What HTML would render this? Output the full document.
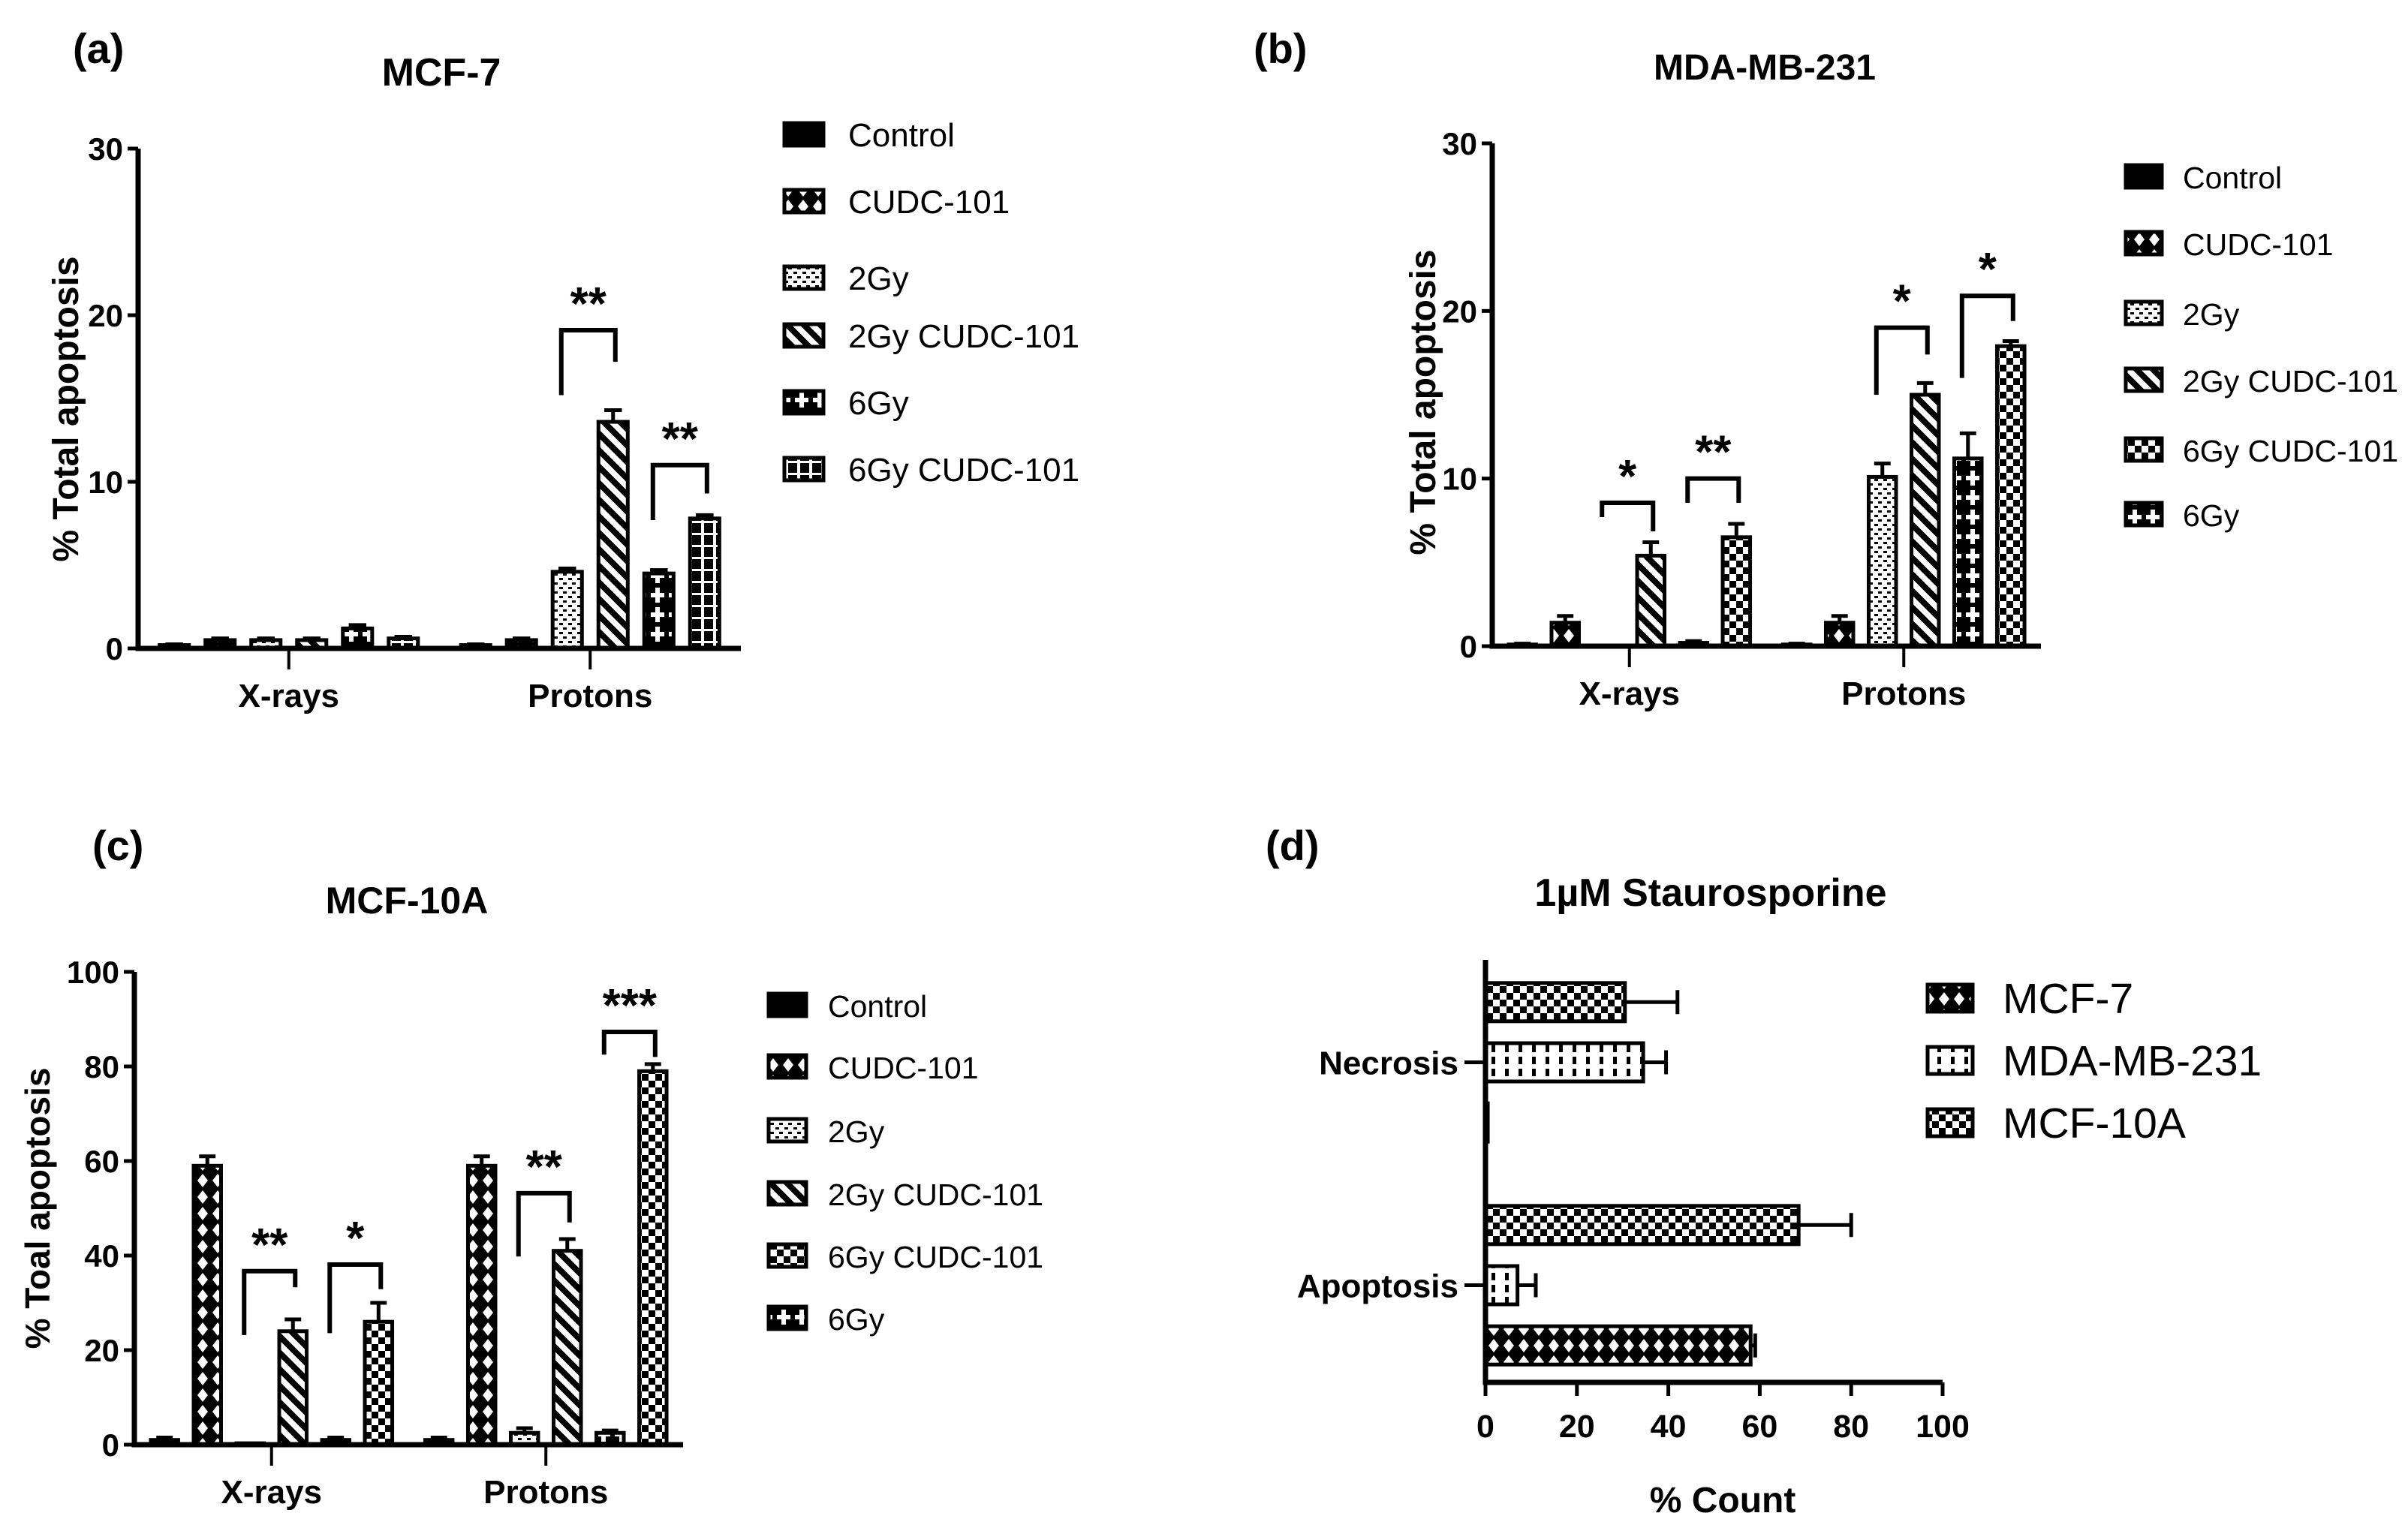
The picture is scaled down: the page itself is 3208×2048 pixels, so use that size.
<!DOCTYPE html>
<html><head><meta charset="utf-8"><style>
html,body{margin:0;padding:0;background:#fff}
svg{display:block}
text{font-family:"Liberation Sans",Arial,sans-serif;fill:#000}
</style></head><body>
<svg id="fig" xmlns="http://www.w3.org/2000/svg" width="3208" height="2048" viewBox="0 0 3208 2048">
<defs>
<pattern id="p-ctrl" patternUnits="userSpaceOnUse" width="10" height="10"><rect width="10" height="10" fill="#000"/></pattern>
<pattern id="p-cudc" patternUnits="userSpaceOnUse" width="20" height="22"><rect width="20" height="22" fill="#000"/><polygon points="10,2 17,11 10,20 3,11" fill="#fff"/></pattern>
<pattern id="p-2gy" patternUnits="userSpaceOnUse" width="12" height="12"><rect width="12" height="12" fill="#fff"/><rect x="1" y="2" width="5" height="3" fill="#000"/><rect x="6" y="8" width="5" height="3" fill="#000"/></pattern>
<pattern id="p-2gyc" patternUnits="userSpaceOnUse" width="22" height="22"><rect width="22" height="22" fill="#fff"/><path d="M-5,-5 L27,27 M-5,17 L5,27 M17,-5 L27,5" stroke="#000" stroke-width="8"/></pattern>
<pattern id="p-6gy" patternUnits="userSpaceOnUse" width="24" height="26"><rect width="24" height="26" fill="#000"/><rect x="9" y="3" width="6" height="20" fill="#fff"/><rect x="3" y="10" width="18" height="6" fill="#fff"/></pattern>
<pattern id="p-grid" patternUnits="userSpaceOnUse" width="16" height="16"><rect width="16" height="16" fill="#000"/><rect x="6" y="0" width="4" height="16" fill="#fff"/><rect x="0" y="6" width="16" height="3" fill="#fff"/></pattern>
<pattern id="p-check" patternUnits="userSpaceOnUse" width="18" height="18"><rect width="18" height="18" fill="#fff"/><rect width="9" height="9" fill="#000"/><rect x="9" y="9" width="9" height="9" fill="#000"/></pattern>
<pattern id="p-mda" patternUnits="userSpaceOnUse" width="18" height="16"><rect width="18" height="16" fill="#fff"/><rect x="7" y="0" width="5" height="10" fill="#000"/></pattern>
</defs>
<g id="root"></g>
</svg>
<script>
// ---------- Panel (a) MCF-7 ----------
const aGroups = ["X-rays", "Protons"];
const aSeries = ["Control", "CUDC-101", "2Gy", "2Gy CUDC-101", "6Gy", "6Gy CUDC-101"];
const aLegend = ["Control", "CUDC-101", "2Gy", "2Gy CUDC-101", "6Gy", "6Gy CUDC-101"];
const aXrays = [0.2, 0.5, 0.5, 0.5, 1.2, 0.6];
const aXraysErr = [0.05, 0.1, 0.1, 0.1, 0.2, 0.1];
const aProtons = [0.2, 0.5, 4.6, 13.6, 4.5, 7.8];
const aProtonsErr = [0.05, 0.1, 0.2, 0.7, 0.2, 0.2];
const aTicks = [0, 10, 20, 30];
// ---------- Panel (b) MDA-MB-231 ----------
const bGroups = ["X-rays", "Protons"];
const bSeries = ["Control", "CUDC-101", "2Gy", "2Gy CUDC-101", "6Gy", "6Gy CUDC-101"];
const bLegend = ["Control", "CUDC-101", "2Gy", "2Gy CUDC-101", "6Gy CUDC-101", "6Gy"];
const bXrays = [0.1, 1.4, 0, 5.4, 0.2, 6.5];
const bXraysErr = [0.05, 0.4, 0, 0.8, 0.1, 0.8];
const bProtons = [0.1, 1.4, 10.1, 15.0, 11.2, 17.9];
const bProtonsErr = [0.05, 0.4, 0.8, 0.7, 1.5, 0.3];
const bTicks = [0, 10, 20, 30];
// ---------- Panel (c) MCF-10A ----------
const cGroups = ["X-rays", "Protons"];
const cSeries = ["Control", "CUDC-101", "2Gy", "2Gy CUDC-101", "6Gy", "6Gy CUDC-101"];
const cLegend = ["Control", "CUDC-101", "2Gy", "2Gy CUDC-101", "6Gy CUDC-101", "6Gy"];
const cXrays = [1, 59, 0.3, 24, 1, 26];
const cXraysErr = [0.5, 2, 0, 2.5, 0.5, 4];
const cProtons = [1, 59, 2.5, 41, 2.5, 79];
const cProtonsErr = [0.5, 2, 1, 2.5, 0.5, 1.5];
const cTicks = [0, 20, 40, 60, 80, 100];
// ---------- Panel (d) Staurosporine ----------
const dCategories = ["Necrosis", "Apoptosis"];
const dSeries = ["MCF-10A", "MDA-MB-231", "MCF-7"];
const dMCF10A = [30.5, 68.5];
const dMCF10AErr = [11.5, 11.5];
const dMDA = [34.5, 7];
const dMDAErr = [5, 4];
const dMCF7 = [0.5, 58];
const dMCF7Err = [0, 1];
const dTicks = [0, 20, 40, 60, 80, 100];
const dLegend = ["MCF-7", "MDA-MB-231", "MCF-10A"];
// significance brackets: [group, leftBar, rightBar, top, leftBottom, rightBottom, label]
const aSig = [[1, 2, 3, 19.1, 15.2, 17.2, "**"], [1, 4, 5, 11.0, 7.7, 9.3, "**"]];
const bSig = [[0, 2, 3, 8.55, 7.7, 6.85, "*"], [0, 4, 5, 10.0, 8.55, 8.55, "**"], [1, 2, 3, 19.0, 15.0, 17.4, "*"], [1, 4, 5, 20.9, 16.0, 19.4, "*"]];
const cSig = [[0, 2, 3, 36.7, 23.2, 33.3, "**"], [0, 4, 5, 38.1, 23.6, 32.9, "*"], [1, 2, 3, 53.2, 39.8, 47.0, "**"], [1, 4, 5, 87.3, 82.5, 82.0, "***"]];

const NS = "http://www.w3.org/2000/svg";
const root = document.getElementById("root");
function mk(tag, attrs, parent, txt) {
  const e = document.createElementNS(NS, tag);
  for (const k in attrs) e.setAttribute(k, attrs[k]);
  if (txt !== undefined) e.textContent = txt;
  (parent || root).appendChild(e);
  return e;
}
const patA = {"Control":"p-ctrl","CUDC-101":"p-cudc","2Gy":"p-2gy","2Gy CUDC-101":"p-2gyc","6Gy":"p-6gy","6Gy CUDC-101":"p-grid"};
const patBC = {"Control":"p-ctrl","CUDC-101":"p-cudc","2Gy":"p-2gy","2Gy CUDC-101":"p-2gyc","6Gy":"p-6gy","6Gy CUDC-101":"p-check"};
const patD = {"MCF-7":"p-cudc","MDA-MB-231":"p-mda","MCF-10A":"p-check"};

function vchart(o) {
  const g = mk("g", {});
  
  
  const yS = v => o.y0 - (v / o.ymax) * (o.y0 - o.yTop);
  const band = (o.xEnd - o.x0) / o.groups.length;
  const gc = i => o.x0 + band * (i + 0.5);
  const bx = (gi, si) => gc(gi) + (si - (o.series.length - 1) / 2) * band * o.spacing;
  const bw = band * o.spacing * 0.64;
  const lab = mk("text", {x: o.labX, y: o.labY, "font-size": 56, "font-weight": "bold"}, g, o.label);
  
  
  const t = mk("text", {x: o.titleX, y: o.titleY, "font-size": o.titleSize, "font-weight": "bold", "text-anchor": "middle"}, g, o.title);
  
  
  const yl = mk("text", {transform: `translate(${o.ylX},${o.ylY}) rotate(-90)`, "font-size": o.ylSize, "font-weight": "bold", "text-anchor": "middle"}, g, o.ylabel);
  
  
  o.groups.forEach((gn, gi) => {
    o.values[gi].forEach((v, si) => {
      const x = bx(gi, si), y = yS(v), h = o.y0 - y;
      if (v > 0) {
        const r = mk("rect", {x: x - bw / 2, y: y, width: bw, height: Math.max(h, 2), fill: `url(#${o.pat[o.series[si]]})`, stroke: "#000", "stroke-width": 5}, g);
        
        
        const e = o.errs[gi][si];
        if (e > 0) {
          const ye = yS(v + e);
          const el = mk("path", {d: `M${x},${y} V${ye} M${x - bw * 0.3},${ye} H${x + bw * 0.3}`, stroke: "#000", "stroke-width": 5, fill: "none"}, g);
          
          
        }
      }
    });
    const tk = mk("line", {x1: gc(gi), x2: gc(gi), y1: o.y0, y2: o.y0 + 28, stroke: "#000", "stroke-width": 4}, g);
    
    
    const xl = mk("text", {x: gc(gi), y: o.y0 + 78, "font-size": 44, "font-weight": "bold", "text-anchor": "middle"}, g, gn);
    
    
  });
  const ax = mk("path", {d: `M${o.x0},${o.yTop} V${o.y0} H${o.xEnd}`, stroke: "#000", "stroke-width": 7, fill: "none"}, g);
  
  
  o.ticks.forEach(tv => {
    const y = yS(tv);
    const tl = mk("line", {x1: o.x0 - 14, x2: o.x0, y1: y, y2: y, stroke: "#000", "stroke-width": 5}, g);
    
    
    const tt = mk("text", {x: o.x0 - 20, y: y + 15, "font-size": 42, "font-weight": "bold", "text-anchor": "end"}, g, tv);
    
    
  });
  o.sig.forEach(s => {
    const xl = bx(s[0], s[1]) - 8, xr = bx(s[0], s[2]) + 3;
    const p = mk("path", {d: `M${xl},${yS(s[4])} V${yS(s[3])} H${xr} V${yS(s[5])}`, stroke: "#000", "stroke-width": 6, fill: "none"}, g);
    
    
    const st = mk("text", {x: (xl + xr) / 2, y: yS(s[3]) - 14, "font-size": 62, "font-weight": "bold", "text-anchor": "middle"}, g, s[6]);
    
    
  });
  o.legend.forEach((sn, i) => {
    const y = o.legY[i];
    const lb = mk("rect", {x: o.legX, y: y - 16, width: o.legW, height: 30, fill: `url(#${o.pat[sn]})`, stroke: "#000", "stroke-width": 5}, g);
    
    
    const lt = mk("text", {x: o.legTX, y: y + 15, "font-size": o.legSize}, g, sn);
    
    
  });
}

vchart({name: "panel-a-mcf7", label: "(a)", labX: 97, labY: 84, title: "MCF-7", titleX: 588, titleY: 114, titleSize: 52,
  ylabel: "% Total apoptosis", ylX: 104, ylY: 545, ylSize: 48,
  x0: 184, xEnd: 987, yTop: 198, y0: 864, ymax: 30, spacing: 0.152, ticks: aTicks,
  groups: aGroups, series: aSeries, legend: aLegend, values: [aXrays, aProtons], errs: [aXraysErr, aProtonsErr], pat: patA, sig: aSig,
  legX: 1045, legW: 52, legTX: 1130, legSize: 44, legY: [180, 269, 371, 448, 537, 626]});
vchart({name: "panel-b-mda-mb-231", label: "(b)", labX: 1670, labY: 84, title: "MDA-MB-231", titleX: 2351, titleY: 106, titleSize: 48,
  ylabel: "% Total apoptosis", ylX: 1912, ylY: 536, ylSize: 48,
  x0: 1988, xEnd: 2719, yTop: 191, y0: 861, ymax: 30, spacing: 0.156, ticks: bTicks,
  groups: bGroups, series: bSeries, legend: bLegend, values: [bXrays, bProtons], errs: [bXraysErr, bProtonsErr], pat: patBC, sig: bSig,
  legX: 2832, legW: 48, legTX: 2908, legSize: 41, legY: [236, 325, 418, 507, 600, 686]});
vchart({name: "panel-c-mcf10a", label: "(c)", labX: 123, labY: 1146, title: "MCF-10A", titleX: 542, titleY: 1217, titleSize: 50,
  ylabel: "% Toal apoptosis", ylX: 66, ylY: 1610, ylSize: 46,
  x0: 179, xEnd: 910, yTop: 1295, y0: 1925, ymax: 100, spacing: 0.156, ticks: cTicks,
  groups: cGroups, series: cSeries, legend: cLegend, values: [cXrays, cProtons], errs: [cXraysErr, cProtonsErr], pat: patBC, sig: cSig,
  legX: 1024, legW: 50, legTX: 1103, legSize: 41, legY: [1340, 1422, 1507, 1591, 1674, 1757]});

(function () {
  const g = mk("g", {});
  
  
  const x0 = 1979, x100 = 2588, xmax = 100, yTop = 1279, yBot = 1842;
  const bandTop = 1267, bandBot = 1861;
  const xS = v => x0 + (v / xmax) * (x100 - x0);
  const band = (bandBot - bandTop) / dCategories.length;
  const cc = i => bandTop + band * (i + 0.5);
  const vals = [dMCF10A, dMDA, dMCF7], errs = [dMCF10AErr, dMDAErr, dMCF7Err];
  const bh = 51, sp = band * 0.27;
  const lab = mk("text", {x: 1686, y: 1146, "font-size": 56, "font-weight": "bold"}, g, "(d)");
  
  
  const t = mk("text", {x: 2279, y: 1207, "font-size": 52, "font-weight": "bold", "text-anchor": "middle"}, g, "1µM Staurosporine");
  
  
  dCategories.forEach((cn, ci) => {
    dSeries.forEach((sn, si) => {
      const yc = cc(ci) + (si - 1) * sp;
      const v = vals[si][ci], e = errs[si][ci];
      const r = mk("rect", {x: x0, y: yc - bh / 2, width: Math.max(xS(v) - x0, 2), height: bh, fill: `url(#${patD[sn]})`, stroke: "#000", "stroke-width": 5}, g);
      
      
      if (e > 0) {
        const el = mk("path", {d: `M${xS(v)},${yc} H${xS(v + e)} M${xS(v + e)},${yc - 16} V${yc + 16}`, stroke: "#000", "stroke-width": 5, fill: "none"}, g);
        
        
      }
    });
    const tk = mk("line", {x1: x0 - 28, x2: x0, y1: cc(ci), y2: cc(ci), stroke: "#000", "stroke-width": 5}, g);
    
    
    const cl = mk("text", {x: x0 - 36, y: cc(ci) + 16, "font-size": 44, "font-weight": "bold", "text-anchor": "end"}, g, cn);
    
    
  });
  const ax = mk("path", {d: `M${x0},${yTop} V${yBot} H${x100}`, stroke: "#000", "stroke-width": 7, fill: "none"}, g);
  
  
  dTicks.forEach(tv => {
    const x = xS(tv);
    const tl = mk("line", {x1: x, x2: x, y1: yBot, y2: yBot + 18, stroke: "#000", "stroke-width": 5}, g);
    
    
    const tt = mk("text", {x: x, y: yBot + 73, "font-size": 43, "font-weight": "bold", "text-anchor": "middle"}, g, tv);
    
    
  });
  const xt = mk("text", {x: 2295, y: 2015, "font-size": 48, "font-weight": "bold", "text-anchor": "middle"}, g, "% Count");
  
  
  const legY = [1330, 1413, 1496];
  dLegend.forEach((sn, i) => {
    const lb = mk("rect", {x: 2568, y: legY[i] - 18, width: 60, height: 36, fill: `url(#${patD[sn]})`, stroke: "#000", "stroke-width": 5}, g);
    
    
    const lt = mk("text", {x: 2668, y: legY[i] + 20, "font-size": 57}, g, sn);
    
    
  });
})();
</script>
</body></html>
